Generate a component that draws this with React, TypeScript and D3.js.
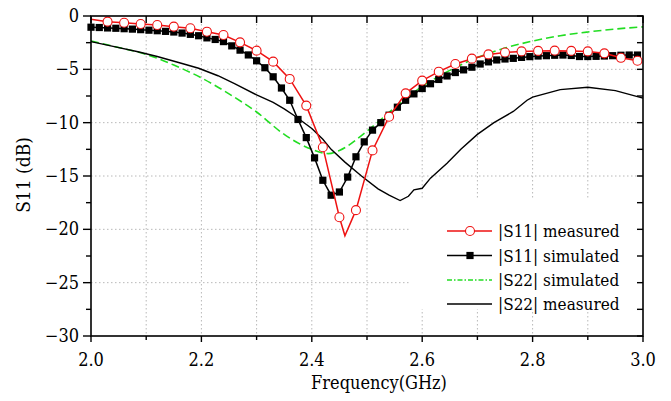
import React from 'react';
import * as d3 from 'd3';

// axis ticks
const xMajor = [2.0, 2.2, 2.4, 2.6, 2.8, 3.0];
const xMinor = [2.1, 2.3, 2.5, 2.7, 2.9];
const yMajor = [0, -5, -10, -15, -20, -25, -30];
const yMinor = [-2.5, -7.5, -12.5, -17.5, -22.5, -27.5];
const xGrid = [2.1, 2.2, 2.3, 2.4, 2.5, 2.6, 2.7, 2.8, 2.9];
const yGrid = [-5, -10, -15, -20, -25];

// |S11| measured (red, open circles)
const s11MeasFreq = [2.0, 2.03, 2.06, 2.09, 2.12, 2.15, 2.18, 2.21, 2.24, 2.27, 2.3, 2.33, 2.36, 2.39, 2.42, 2.45, 2.46, 2.48, 2.51, 2.54, 2.57, 2.6, 2.63, 2.66, 2.69, 2.72, 2.75, 2.78, 2.81, 2.84, 2.87, 2.9, 2.93, 2.96, 2.99];
const s11MeasDb = [-0.3, -0.53, -0.63, -0.75, -0.84, -1.0, -1.15, -1.47, -1.78, -2.47, -3.25, -4.28, -5.9, -8.4, -12.3, -18.87, -20.6, -18.2, -12.6, -9.44, -7.25, -6.06, -5.22, -4.5, -4.0, -3.6, -3.42, -3.32, -3.27, -3.25, -3.27, -3.32, -3.5, -3.92, -4.2];
const s11MeasNoMarker = [2.0, 2.46];

// |S11| simulated (black, filled squares)
const s11SimFreq = [2.0, 2.015, 2.03, 2.045, 2.06, 2.075, 2.09, 2.105, 2.12, 2.135, 2.15, 2.165, 2.18, 2.195, 2.21, 2.225, 2.24, 2.255, 2.27, 2.285, 2.3, 2.315, 2.33, 2.345, 2.36, 2.375, 2.39, 2.405, 2.42, 2.435, 2.45, 2.465, 2.48, 2.495, 2.51, 2.525, 2.54, 2.555, 2.57, 2.585, 2.6, 2.615, 2.63, 2.645, 2.66, 2.675, 2.69, 2.705, 2.72, 2.735, 2.75, 2.765, 2.78, 2.795, 2.81, 2.825, 2.84, 2.855, 2.87, 2.885, 2.9, 2.915, 2.93, 2.945, 2.96, 2.975, 2.99];
const s11SimDb = [-1.05, -1.08, -1.12, -1.15, -1.19, -1.23, -1.28, -1.33, -1.38, -1.44, -1.5, -1.6, -1.72, -1.85, -2.05, -2.2, -2.4, -2.8, -3.2, -3.65, -4.2, -4.85, -5.7, -6.75, -7.9, -9.7, -11.4, -13.3, -15.4, -16.8, -16.5, -15.1, -13.2, -11.8, -10.7, -10.0, -9.3, -8.55, -7.9, -7.3, -6.8, -6.35, -5.95, -5.62, -5.3, -5.05, -4.8, -4.5, -4.3, -4.12, -4.03, -3.97, -3.88, -3.81, -3.75, -3.72, -3.68, -3.66, -3.7, -3.8, -3.8, -3.78, -3.75, -3.72, -3.68, -3.66, -3.66];

// |S22| simulated (green dashed)
const s22SimFreq = [2.0, 2.05, 2.1, 2.15, 2.2, 2.25, 2.3, 2.35, 2.4, 2.43, 2.45, 2.5, 2.55, 2.6, 2.65, 2.7, 2.75, 2.8, 2.85, 2.9, 2.95, 3.0];
const s22SimDb = [-2.35, -2.95, -3.6, -4.6, -5.8, -7.3, -9.0, -11.1, -12.5, -12.9, -12.6, -10.8, -8.6, -6.6, -5.1, -3.9, -3.0, -2.35, -1.85, -1.5, -1.22, -1.02];

// |S22| measured (black solid)
const s22MeasFreq = [2.0, 2.04, 2.085, 2.12, 2.165, 2.195, 2.23, 2.26, 2.3, 2.33, 2.35, 2.37, 2.4, 2.42, 2.435, 2.46, 2.49, 2.52, 2.54, 2.56, 2.575, 2.585, 2.6, 2.615, 2.645, 2.67, 2.7, 2.73, 2.765, 2.79, 2.8, 2.85, 2.9, 2.95, 3.0];
const s22MeasDb = [-2.4, -2.85, -3.35, -3.8, -4.45, -4.9, -5.6, -6.35, -7.4, -8.1, -8.7, -9.4, -10.55, -11.55, -12.5, -13.7, -15.0, -16.2, -16.8, -17.3, -16.9, -16.3, -16.15, -15.2, -13.8, -12.5, -11.1, -10.0, -8.95, -7.9, -7.6, -6.9, -6.68, -7.0, -7.7];

const legendLabels = ['|S11| measured', '|S11| simulated', '|S22| simulated', '|S22| measured'];

const W = 671;
const H = 401;
const margin = { top: 16, right: 28, bottom: 65, left: 91 };
const font = "'DejaVu Serif', serif";

const App = () => {
  const x = d3.scaleLinear().domain([2.0, 3.0]).range([margin.left, W - margin.right]);
  const y = d3.scaleLinear().domain([-30, 0]).range([H - margin.bottom, margin.top]);
  const x0 = x.range()[0], x1 = x.range()[1];
  const y0 = y.range()[0], y1 = y.range()[1];

  const zip = (fs: number[], vs: number[]) => fs.map((f, i) => [f, vs[i]] as [number, number]);
  const lin = d3.line<[number, number]>().x(d => x(d[0])).y(d => y(d[1]));
  const smooth = d3.line<[number, number]>().x(d => x(d[0])).y(d => y(d[1])).curve(d3.curveMonotoneX);

  const redPts = zip(s11MeasFreq, s11MeasDb);
  const simPts = zip(s11SimFreq, s11SimDb);
  const greenPts = zip(s22SimFreq, s22SimDb);
  const s22Pts = zip(s22MeasFreq, s22MeasDb);

  const fmt = (v: number) => (v < 0 ? '\u2212' + Math.abs(v) : String(v));

  const legendX = 447;
  const legendY = [231, 255.5, 280, 304];

  return (
    <svg width={W} height={H} style={{ position: 'absolute', left: 0, top: 0, background: '#fff', fontFamily: font, fontStretch: 'condensed' }}>
      <rect width={W} height={H} fill="#fff" />
      {/* grid */}
      <g stroke="#b8b8b8" strokeWidth={1} strokeDasharray="1.5,2.5">
        {xGrid.map(t => <line key={'gx' + t} x1={x(t)} x2={x(t)} y1={y1} y2={y0} />)}
        {yGrid.map(t => <line key={'gy' + t} x1={x0} x2={x1} y1={y(t)} y2={y(t)} />)}
      </g>
      {/* legend background */}
      <rect x={410} y={200} width={x1 - 411} height={109} fill="#fff" />

      {/* curves */}
      <path d={smooth(greenPts) || ''} fill="none" stroke="#22dd22" strokeWidth={1.6} strokeDasharray="8,4" />
      <path d={lin(s22Pts) || ''} fill="none" stroke="#000" strokeWidth={1.4} />
      <path d={lin(simPts) || ''} fill="none" stroke="#000" strokeWidth={1.5} />
      {simPts.map((d, i) => (
        <rect key={'sq' + i} x={x(d[0]) - 3.6} y={y(d[1]) - 3.6} width={7.2} height={7.2} fill="#000" />
      ))}
      <path d={lin(redPts) || ''} fill="none" stroke="#ee1111" strokeWidth={1.5} />
      {redPts.filter(d => !s11MeasNoMarker.includes(d[0])).map((d, i) => (
        <circle key={'c' + i} cx={x(d[0])} cy={y(d[1])} r={4.5} fill="#fff" stroke="#ee1111" strokeWidth={1.1} />
      ))}

      {/* frame */}
      <rect x={x0} y={y1} width={x1 - x0} height={y0 - y1} fill="none" stroke="#000" strokeWidth={1.6} />

      {/* ticks */}
      <g stroke="#000" strokeWidth={1.4}>
        {xMajor.map(t => <line key={'xb' + t} x1={x(t)} x2={x(t)} y1={y0} y2={y0 + 6} />)}
        {xMinor.map(t => <line key={'xbm' + t} x1={x(t)} x2={x(t)} y1={y0} y2={y0 + 4} />)}
        {[...xMajor, ...xMinor].map(t => <line key={'xt' + t} x1={x(t)} x2={x(t)} y1={y1} y2={y1 + 7} />)}
        {yMajor.map(t => <line key={'yl' + t} x1={x0 - 8} x2={x0} y1={y(t)} y2={y(t)} />)}
        {yMinor.map(t => <line key={'ylm' + t} x1={x0 - 5} x2={x0} y1={y(t)} y2={y(t)} />)}
        {[...yMajor, ...yMinor].map(t => <line key={'yr' + t} x1={x1 - 6} x2={x1} y1={y(t)} y2={y(t)} />)}
      </g>

      {/* tick labels */}
      <g fontSize={18} fill="#000">
        {xMajor.map(t => (
          <text key={'xl' + t} x={x(t)} y={y0 + 30} textAnchor="middle">{t.toFixed(1)}</text>
        ))}
        {yMajor.map(t => (
          <text key={'ylb' + t} x={x0 - 12} y={y(t) + 6} textAnchor="end">{fmt(t)}</text>
        ))}
      </g>

      {/* axis titles */}
      <text x={(x0 + x1) / 2 + 12} y={389} textAnchor="middle" fontSize={18}>Frequency(GHz)</text>
      <text transform={`translate(30,175) rotate(-90)`} textAnchor="middle" fontSize={19}>S11 (dB)</text>

      {/* legend */}
      <g fontSize={17}>
        {legendLabels.map((label, i) => {
          const ly = legendY[i];
          return (
            <g key={label}>
              {i === 0 && (
                <>
                  <line x1={legendX} x2={legendX + 45} y1={ly} y2={ly} stroke="#ee1111" strokeWidth={1.5} />
                  <circle cx={legendX + 23} cy={ly} r={4.5} fill="#fff" stroke="#ee1111" strokeWidth={1.1} />
                </>
              )}
              {i === 1 && (
                <>
                  <line x1={legendX} x2={legendX + 45} y1={ly} y2={ly} stroke="#000" strokeWidth={1.5} />
                  <rect x={legendX + 23 - 3.6} y={ly - 3.6} width={7.2} height={7.2} fill="#000" />
                </>
              )}
              {i === 2 && (
                <line x1={legendX} x2={legendX + 45} y1={ly} y2={ly} stroke="#22dd22" strokeWidth={1.4} strokeDasharray="5,2,1.5,2" />
              )}
              {i === 3 && (
                <line x1={legendX} x2={legendX + 45} y1={ly} y2={ly} stroke="#000" strokeWidth={1.5} />
              )}
              <text x={legendX + 51} y={ly + 6}>{label}</text>
            </g>
          );
        })}
      </g>
    </svg>
  );
};

export default App;
